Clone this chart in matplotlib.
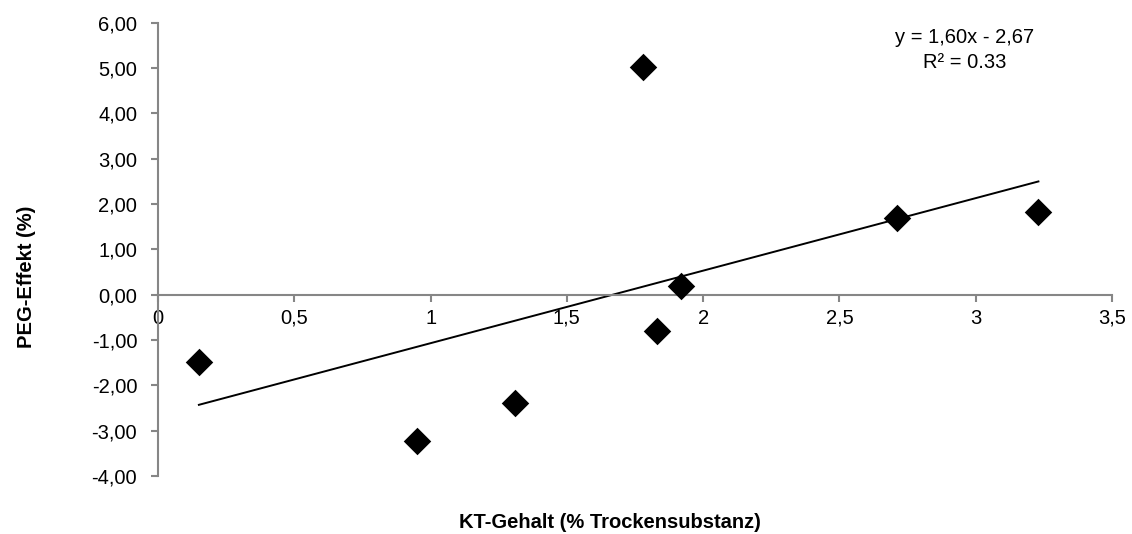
import matplotlib
matplotlib.use("Agg")
import matplotlib.pyplot as plt
from matplotlib.ticker import FuncFormatter
import numpy as np

# Data
kt_gehalt = [0.15, 0.95, 1.31, 1.78, 1.83, 1.92, 2.71, 3.23]
peg_effekt = [-1.49, -3.22, -2.38, 5.03, -0.80, 0.19, 1.69, 1.82]
slope = 1.60
intercept = -2.67
r2 = 0.33
x_ticks = [0, 0.5, 1, 1.5, 2, 2.5, 3, 3.5]
y_ticks = [-4, -3, -2, -1, 0, 1, 2, 3, 4, 5, 6]

plt.rcParams['font.family'] = ['Liberation Sans', 'DejaVu Sans']

fig = plt.figure(figsize=(11.32, 5.34), dpi=100)
ax = fig.add_axes([158/1132, 1-476/534, (1112-158)/1132, (476-22.7)/534])

ax.scatter(kt_gehalt, peg_effekt, marker='D', s=14**2, color='black', zorder=3, linewidths=0)

xs = np.array([min(kt_gehalt), max(kt_gehalt)])
ax.plot(xs, slope*xs + intercept, color='black', lw=1.4, zorder=2)

ax.set_xlim(0, 3.5)
ax.set_ylim(-4, 6)
ax.set_xticks(x_ticks)
ax.set_yticks(y_ticks)

def fmt_x(v, p):
    return ('%g' % v).replace('.', ',')
def fmt_y(v, p):
    return ('%.2f' % v).replace('.', ',')
ax.xaxis.set_major_formatter(FuncFormatter(fmt_x))
ax.yaxis.set_major_formatter(FuncFormatter(fmt_y))

grey = '#868686'
ax.spines['top'].set_visible(False)
ax.spines['right'].set_visible(False)
ax.spines['bottom'].set_position(('data', 0))
for s in ['left', 'bottom']:
    ax.spines[s].set_color(grey)
    ax.spines[s].set_linewidth(1.5)
ax.tick_params(axis='both', direction='out', length=5, width=1.5, color=grey,
               labelsize=14.5, labelcolor='black')
ax.tick_params(axis='x', pad=5)
ax.tick_params(axis='y', pad=10)
ax.patch.set_alpha(0)

fig.text(965/1132, 1-50/534, 'y = 1,60x - 2,67\nR² = %.2f' % r2, ha='center', va='center',
         fontsize=14.5, linespacing=1.35)

fig.text(610/1132, 1-522/534, 'KT-Gehalt (% Trockensubstanz)', ha='center', va='center',
         fontsize=14.5, fontweight='bold')
fig.text(26/1132, 1-277/534, 'PEG-Effekt (%)', ha='center', va='center', rotation=90,
         fontsize=14.5, fontweight='bold')

fig.savefig('out.png', dpi=100, facecolor='white')
